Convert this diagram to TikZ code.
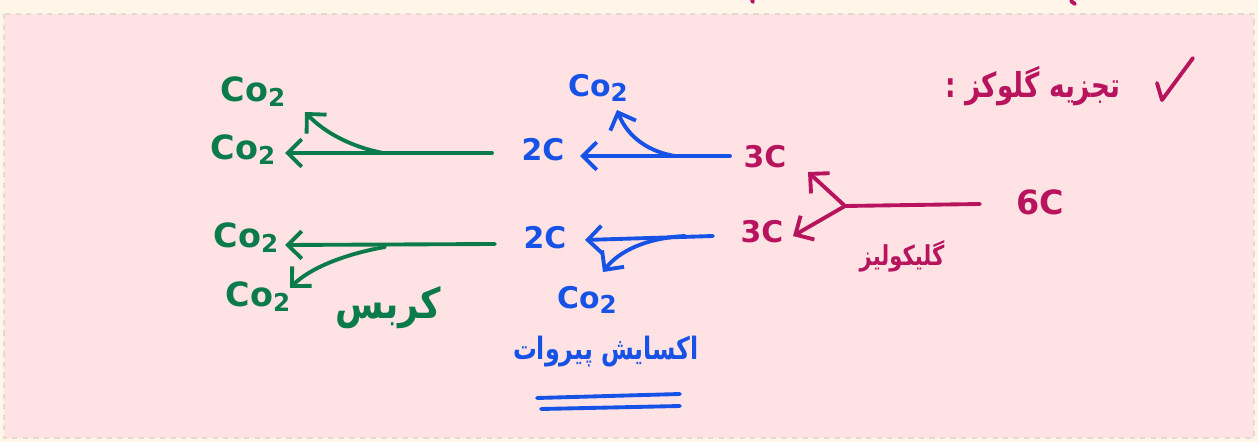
\documentclass[tikz,border=0pt]{standalone}
\usepackage{fontspec}
\setmainfont{DejaVu Sans}
\newfontfamily\fa[Script=Arabic]{DejaVu Sans}
\TeXXeTstate=1
\usetikzlibrary{arrows.meta}
\definecolor{mag}{HTML}{B8145E}
\definecolor{blu}{HTML}{1752E6}
\definecolor{grn}{HTML}{0B7B4B}
\definecolor{pinkbg}{HTML}{FFE2E4}
\definecolor{cream}{HTML}{FFF5E9}
\definecolor{dashc}{HTML}{E6DACF}
\tikzset{
  ln/.style={line width=2.2pt, line cap=round, line join=round},
  arr/.style={ln, -{Straight Barb[length=2.8mm,width=5.5mm]}},
  lbl/.style={inner sep=0pt, font=\bfseries\fontsize{17}{17}\selectfont},
  colbl/.style={inner sep=0pt, font=\bfseries\fontsize{19}{19}\selectfont},
  falbl/.style={inner sep=0pt},
}
\newcommand{\cotwo}{Co\raisebox{-0.15em}{\fontsize{14}{14}\selectfont 2}}
\begin{document}
\begin{tikzpicture}[x=0.02cm,y=-0.02cm]
\fill[cream] (0,0) rectangle (1258,442);
\useasboundingbox (0,0) rectangle (1258,442);
\draw[dashc, dashed, line width=0.8pt, fill=pinkbg] (4,14) rectangle (1254,438);
% top fragments
\draw[mag, ln] (752,0) -- (753,2);
\draw[mag, ln] (1071,1) -- (1075,4);

% magenta part
\node[lbl, mag, font=\bfseries\fontsize{19}{19}\selectfont] (c6) at (1040,202) {6C};
\node[lbl, mag] (c3a) at (765,157) {3C};
\node[lbl, mag] (c3b) at (762,232) {3C};
\coordinate (m0) at (980,204);
\coordinate (m1) at (845,206);
\coordinate (m2) at (808,172);
\coordinate (m3) at (793,236);
\draw[ln, mag] (m0) -- (m1);
\draw[arr, mag] (m1) -- (m2);
\draw[arr, mag] (m1) -- (m3);
\node[falbl, mag, font=\fa\bfseries\fontsize{12}{18}\selectfont, yscale=1.3] (glyc) at (902,256) {\beginR گلیکولیز\endR};
\node[falbl, mag, font=\fa\bfseries\fontsize{15}{22}\selectfont, yscale=1.3] (title) at (1033,86) {\beginR تجزیه گلوکز :\endR};
\draw[ln, mag] (1157,83) -- (1162,100) -- (1193,58);

% blue part
\node[lbl, blu] (b2a) at (543,150) {2C};
\node[lbl, blu] (b2b) at (545,238) {2C};
\node[colbl, blu, font=\bfseries\fontsize{17}{17}\selectfont] (bco1) at (598,88) {\cotwo};
\node[colbl, blu, font=\bfseries\fontsize{17}{17}\selectfont] (bco2) at (587,300) {\cotwo};
\coordinate (b0) at (730,156);
\coordinate (b1) at (580,156);
\coordinate (bs) at (675,156);
\coordinate (be) at (617,110);
\draw[arr, blu] (b0) -- (b1);
\draw[arr, blu] (bs) .. controls (650,152) and (628,138) .. (be);
\coordinate (b3) at (713,236);
\coordinate (b4) at (585,240);
\coordinate (bs2) at (685,236);
\coordinate (be2) at (603,272);
\draw[arr, blu] (b3) -- (b4);
\draw[arr, blu] (bs2) .. controls (645,238) and (618,252) .. (be2);
\node[falbl, blu, font=\fa\bfseries\fontsize{13.5}{20}\selectfont, yscale=1.3] (oxid) at (606,352) {\beginR اکسایش پیروات\endR};
\coordinate (u1) at (537,398);
\coordinate (u2) at (680,394);
\coordinate (u3) at (541,409);
\coordinate (u4) at (680,406);
\draw[ln, blu] (u1) -- (u2);
\draw[ln, blu] (u3) -- (u4);

% green part
\node[colbl, grn] (g1) at (253,92) {\cotwo};
\node[colbl, grn] (g2) at (243,150) {\cotwo};
\node[colbl, grn] (g3) at (246,238) {\cotwo};
\node[colbl, grn] (g4) at (258,297) {\cotwo};
\coordinate (ga) at (492,153);
\coordinate (gb) at (285,153);
\coordinate (gc) at (383,153);
\coordinate (gd) at (305,112);
\draw[arr, grn] (ga) -- (gb);
\draw[arr, grn] (gc) .. controls (352,147) and (325,133) .. (gd);
\coordinate (ge) at (495,244);
\coordinate (gf) at (285,245);
\coordinate (gg) at (385,247);
\coordinate (gh) at (290,288);
\draw[arr, grn] (ge) -- (gf);
\draw[arr, grn] (gg) .. controls (345,254) and (310,268) .. (gh);
\node[falbl, grn, font=\fa\bfseries\fontsize{20}{28}\selectfont, yscale=1.2] (krebs) at (388,308) {\beginR کربس\endR};
\end{tikzpicture}
\end{document}
